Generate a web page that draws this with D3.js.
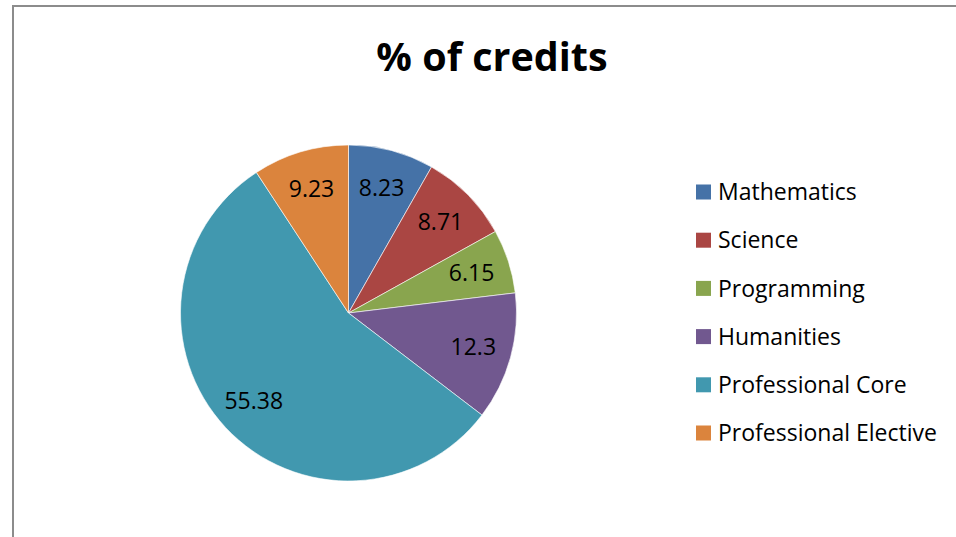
<!DOCTYPE html>
<html><head><meta charset="utf-8">
<script src="https://cdn.jsdelivr.net/npm/d3@7/dist/d3.min.js"></script>
<style>html,body{margin:0;padding:0;background:#fff;}svg{display:block;}</style>
</head><body>
<svg id="chart" width="956" height="537"></svg>
<script>
const categories = ["Mathematics","Science","Programming","Humanities","Professional Core","Professional Elective"];
const values = [8.23, 8.71, 6.15, 12.3, 55.38, 9.23];
const colors = ["#4572A7","#AA4643","#89A54E","#71588F","#4198AF","#DB843D"];
const title = "% of credits";

const svg = d3.select("#chart");
const font = "'Open Sans', sans-serif";

// chart area border (left and top visible)
svg.append("line").attr("x1",13).attr("y1",5).attr("x2",13).attr("y2",537).attr("stroke","#8c8c8c").attr("stroke-width",2);
svg.append("line").attr("x1",12).attr("y1",6).attr("x2",956).attr("y2",6).attr("stroke","#8c8c8c").attr("stroke-width",2);

svg.append("text").attr("x",492).attr("y",71).attr("text-anchor","middle")
  .attr("font-family",font).attr("font-weight","bold").attr("font-size",39.5).attr("fill","#000").text(title);

const cx = 348.5, cy = 313, r = 168;
const data = categories.map((c,i)=>({cat:c,value:values[i],color:colors[i]}));
const pie = d3.pie().value(d=>d.value).sort(null);
const arcs = pie(data);
const arc = d3.arc().innerRadius(0).outerRadius(r);
const labelArc = d3.arc().innerRadius(r*0.77).outerRadius(r*0.77);

const g = svg.append("g").attr("transform",`translate(${cx},${cy})`);
g.selectAll("path").data(arcs).join("path")
  .attr("d",arc).attr("fill",d=>d.data.color).attr("stroke","#ffffff").attr("stroke-width",0.6);
g.selectAll("text").data(arcs).join("text")
  .attr("transform",d=>`translate(${labelArc.centroid(d)})`)
  .attr("text-anchor","middle").attr("dy","0.36em")
  .attr("font-family",font).attr("font-size",23).attr("fill","#000")
  .text(d=>d.data.value);

const legend = svg.append("g").attr("transform","translate(696,192)");
const items = legend.selectAll("g").data(data).join("g").attr("transform",(d,i)=>`translate(0,${i*48.2})`);
items.append("rect").attr("x",0).attr("y",-7.5).attr("width",15).attr("height",15).attr("fill",d=>d.color);
items.append("text").attr("x",22).attr("y",0).attr("dy","0.36em")
  .attr("font-family",font).attr("font-size",23).attr("fill","#000").text(d=>d.cat);
</script>
</body></html>
